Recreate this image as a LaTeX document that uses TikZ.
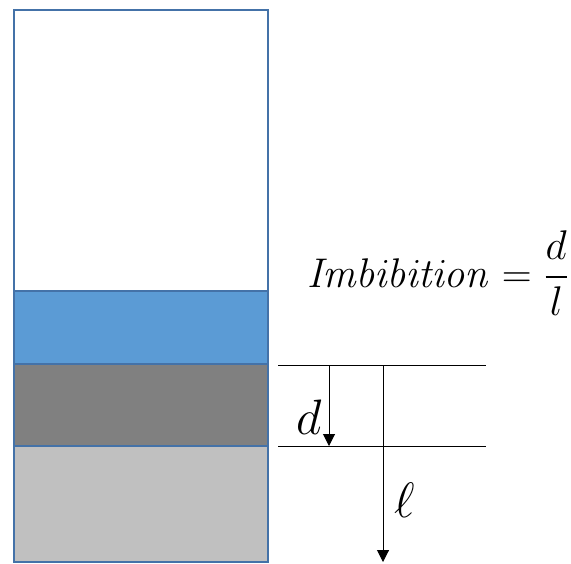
\documentclass[tikz,border=0pt]{standalone}
\usepackage{xcolor}
\usepackage{amsmath}
\usetikzlibrary{arrows.meta, positioning}
\definecolor{myframe}{RGB}{68,114,168}
\definecolor{myblue}{RGB}{91,155,213}
\definecolor{mydgray}{RGB}{128,128,128}
\definecolor{mylgray}{RGB}{192,192,192}
\tikzset{
  layer/.style={draw=myframe, line width=0.6pt},
  guide/.style={line width=0.5pt, color=black},
  arrow/.style={-{Triangle[width=6pt,length=6pt]}, line width=0.5pt, color=black},
  biglabel/.style={font=\fontsize{22}{26}\selectfont},
  symlabel/.style={font=\fontsize{28}{32}\selectfont}
}
\begin{document}
\begin{tikzpicture}[x=0.5pt, y=-0.5pt]
  \useasboundingbox (0,0) rectangle (571,563);

  % Layers of the column (top to bottom)
  \filldraw[layer, fill=white] (14,10) rectangle (268,291);
  \filldraw[layer, fill=myblue] (14,291) rectangle (268,364);
  \filldraw[layer, fill=mydgray] (14,364) rectangle (268,446);
  \filldraw[layer, fill=mylgray] (14,446) rectangle (268,562);
  \draw[draw=myframe, line width=1.2pt] (14,10) rectangle (268,562);

  % Reference lines
  \coordinate (topL) at (278,365);
  \coordinate (topR) at (486,365);
  \coordinate (botL) at (278,446);
  \coordinate (botR) at (486,446);
  \draw[guide] (topL) -- (topR);
  \draw[guide] (botL) -- (botR);

  % Depth arrows
  \coordinate (dA) at (329,365);
  \coordinate (dB) at (329,446);
  \coordinate (lA) at (383,365);
  \coordinate (lB) at (383,562);
  \draw[arrow] (dA) -- (dB);
  \draw[arrow] (lA) -- (lB);
  \node[symlabel] (dlab) at (309,417) {$d$};
  \node[symlabel] (llab) at (405,500) {$\ell$};

  % Formula
  \node[biglabel] (formula) at (438,273) {$\mathit{Imbibition}=\dfrac{d}{l}$};
\end{tikzpicture}
\end{document}
